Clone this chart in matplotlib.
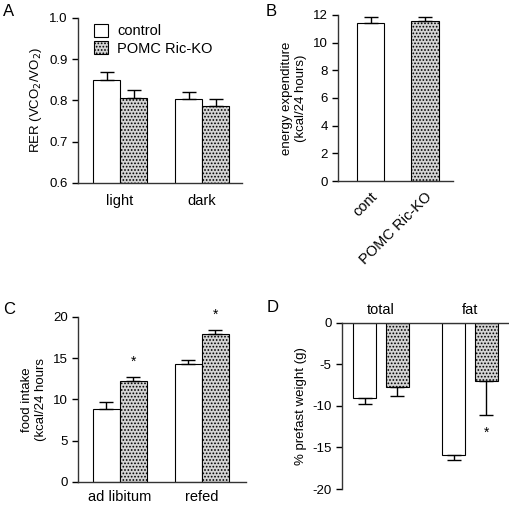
import matplotlib
matplotlib.use("Agg")
import matplotlib.pyplot as plt
import numpy as np
from matplotlib.patches import Patch

plt.rcParams['font.family'] = ['Liberation Sans', 'DejaVu Sans']
plt.rcParams['hatch.color'] = '#555555'
plt.rcParams['hatch.linewidth'] = 0.8
plt.rcParams['axes.unicode_minus'] = False

# Panel A
a_cats = ["light", "dark"]
a_ctrl = [0.850, 0.803]
a_ctrl_err = [0.020, 0.017]
a_ko = [0.805, 0.787]
a_ko_err = [0.020, 0.017]

# Panel B
b_cats = ["cont", "POMC Ric-KO"]
b_vals = [11.4, 11.55]
b_err = [0.45, 0.30]

# Panel C
c_cats = ["ad libitum", "refed"]
c_ctrl = [8.8, 14.3]
c_ctrl_err = [0.9, 0.5]
c_ko = [12.3, 17.9]
c_ko_err = [0.4, 0.5]

# Panel D
d_cats = ["total", "fat"]
d_ctrl = [-9.0, -15.9]
d_ctrl_err = [0.8, 0.6]
d_ko = [-7.7, -7.0]
d_ko_err = [1.1, 4.1]

KO_FACE = '#d4d4d4'
KO_HATCH = '.....'
FS = 9.5
CFS = 10.5

fig = plt.figure(figsize=(5.10, 5.08), dpi=100)

def style(ax):
    for s in ['top', 'right']:
        ax.spines[s].set_visible(False)
    for s in ax.spines.values():
        s.set_linewidth(1.0)
        s.set_color('#333333')
    ax.tick_params(direction='out', length=4, width=1, labelsize=FS, colors='black')

def bars(ax, x, vals, errs, ko, width, up=True):
    fc = KO_FACE if ko else 'white'
    hatch = KO_HATCH if ko else None
    ax.bar(x, vals, width=width, color=fc, edgecolor='black', linewidth=0.8,
           hatch=hatch, zorder=2)
    e = np.array(errs)
    yerr = [np.zeros_like(e), e] if up else [e, np.zeros_like(e)]
    ax.errorbar(x, vals, yerr=yerr, fmt='none', ecolor='black', elinewidth=1,
                capsize=5, capthick=1, zorder=3)

# A
axA = fig.add_axes([0.153, 0.6398, 0.322, 0.3248])
style(axA)
xA = np.arange(len(a_cats))
w = 0.33
bars(axA, xA - w/2, a_ctrl, a_ctrl_err, False, w)
bars(axA, xA + w/2, a_ko, a_ko_err, True, w)
axA.set_ylim(0.6, 1.0)
axA.set_xlim(-0.512, 1.488)
axA.set_yticks([0.6, 0.7, 0.8, 0.9, 1.0])
axA.set_xticks(xA)
axA.set_xticklabels(a_cats, fontsize=CFS)
axA.tick_params(axis='x', length=0, pad=8)
axA.set_ylabel("RER (VCO$_2$/VO$_2$)", fontsize=FS)
handles = [Patch(facecolor='white', edgecolor='black', linewidth=0.8, label='control'),
           Patch(facecolor=KO_FACE, edgecolor='black', linewidth=0.8, hatch=KO_HATCH, label='POMC Ric-KO')]
axA.legend(handles=handles, loc='upper left', bbox_to_anchor=(0.015, 1.045), frameon=False,
           fontsize=CFS, handlelength=1.0, handleheight=1.0, handletextpad=0.6, labelspacing=0.2)
fig.text(0.006, 0.978, "A", fontsize=12, va='center')

# B
axB = fig.add_axes([0.663, 0.6437, 0.225, 0.3268])
style(axB)
xB = np.arange(len(b_cats))
wb = 0.5
bars(axB, [xB[0]], [b_vals[0]], [b_err[0]], False, wb)
bars(axB, [xB[1]], [b_vals[1]], [b_err[1]], True, wb)
axB.set_ylim(0, 12)
axB.set_xlim(-0.596, 1.514)
axB.set_yticks([0, 2, 4, 6, 8, 10, 12])
axB.set_xticks(xB)
axB.set_xticklabels(b_cats, rotation=45, ha='right', rotation_mode='anchor', fontsize=CFS)
axB.tick_params(axis='x', length=0, pad=6)
axB.set_ylabel("energy expenditure\n(kcal/24 hours)", fontsize=FS)
fig.text(0.52, 0.978, "B", fontsize=12, va='center')

# C
axC = fig.add_axes([0.153, 0.0512, 0.329, 0.3248])
style(axC)
xC = np.arange(len(c_cats))
bars(axC, xC - w/2, c_ctrl, c_ctrl_err, False, w)
bars(axC, xC + w/2, c_ko, c_ko_err, True, w)
axC.set_ylim(0, 20)
axC.set_xlim(-0.512, 1.537)
axC.set_yticks([0, 5, 10, 15, 20])
axC.set_xticks(xC)
axC.set_xticklabels(c_cats, fontsize=CFS)
axC.tick_params(axis='x', length=0, pad=6)
axC.set_ylabel("food intake\n(kcal/24 hours", fontsize=FS)
for xi, v, e in zip(xC + w/2, c_ko, c_ko_err):
    axC.text(xi, v + e + 1.0, "*", ha='center', va='bottom', fontsize=10)
fig.text(0.006, 0.39, "C", fontsize=12, va='center')

# D
axD = fig.add_axes([0.6706, 0.0374, 0.3294, 0.3268])
for s in ['bottom', 'right']:
    axD.spines[s].set_visible(False)
for s in axD.spines.values():
    s.set_linewidth(1.0)
    s.set_color('#333333')
axD.tick_params(direction='out', length=4, width=1, labelsize=FS, colors='black')
xD = np.arange(len(d_cats))
wd = 0.26
off = 0.185
bars(axD, xD - off, d_ctrl, d_ctrl_err, False, wd, up=False)
bars(axD, xD + off, d_ko, d_ko_err, True, wd, up=False)
axD.set_ylim(-20, 0)
axD.set_xlim(-0.438, 1.449)
axD.set_yticks([-20, -15, -10, -5, 0])
axD.xaxis.set_ticks_position('top')
axD.set_xticks(xD)
axD.set_xticklabels(d_cats, fontsize=CFS)
axD.tick_params(axis='x', length=0, pad=4)
axD.set_ylabel("% prefast weight (g)", fontsize=FS)
axD.text(xD[1] + off, d_ko[1] - d_ko_err[1] - 1.3, "*", ha='center', va='top', fontsize=10)
fig.text(0.523, 0.394, "D", fontsize=12, va='center')

fig.savefig("out.png", dpi=100)
